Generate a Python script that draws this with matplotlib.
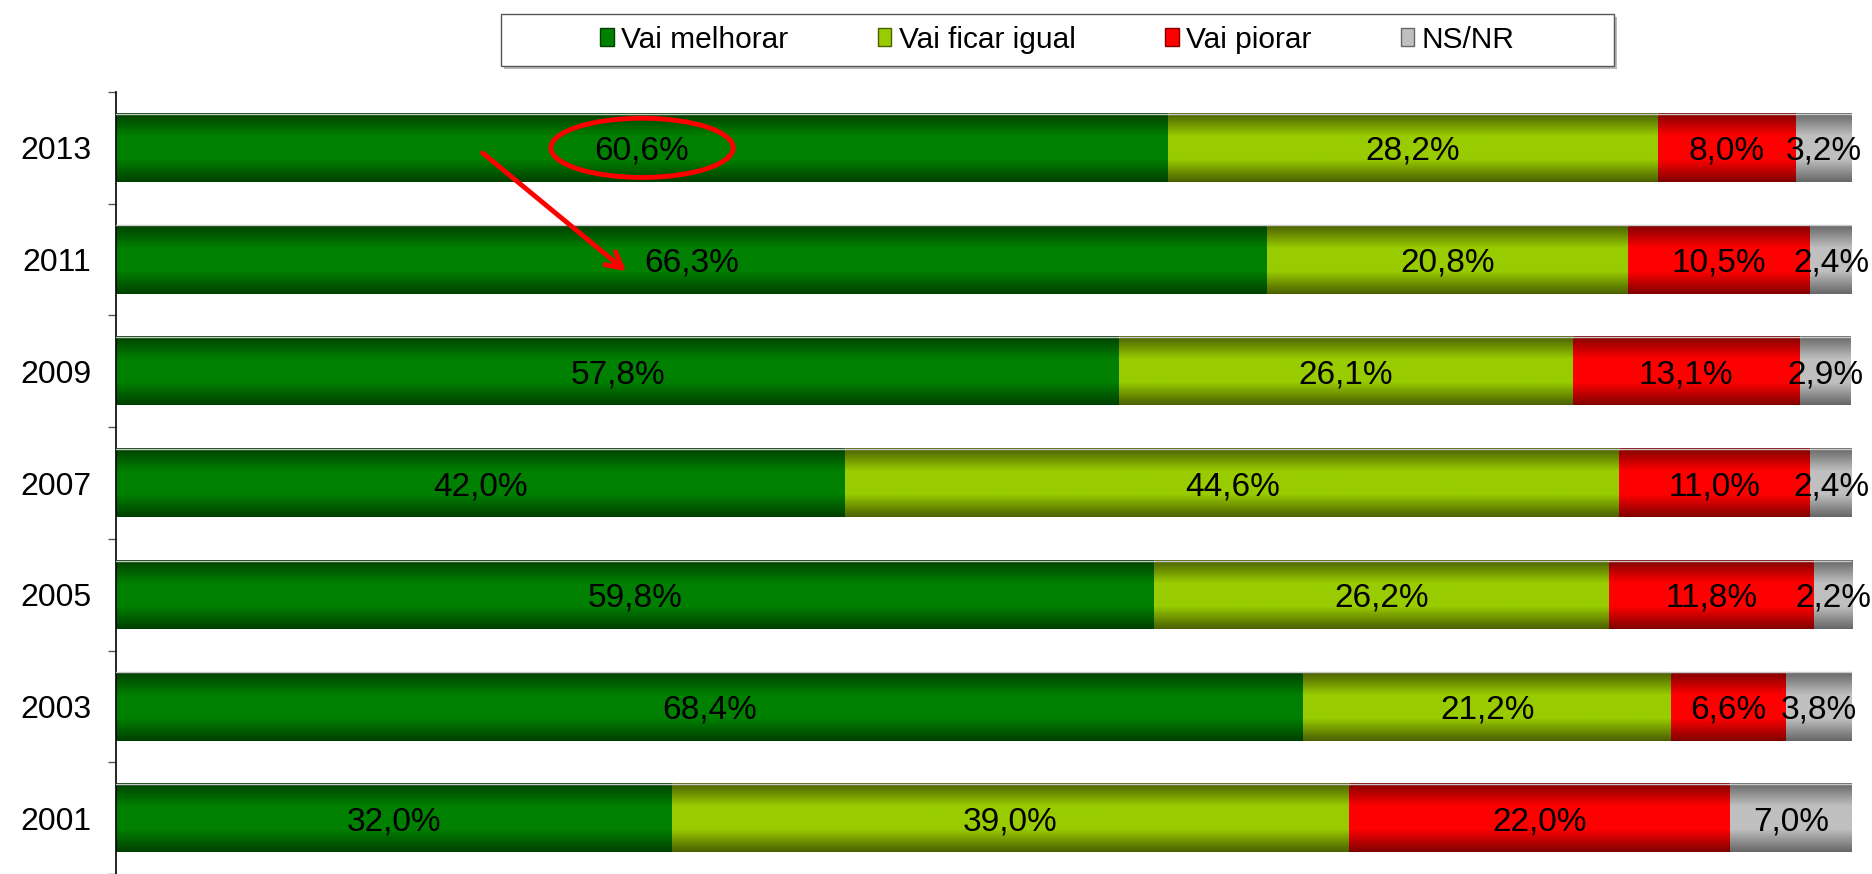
import numpy as np
import matplotlib
matplotlib.use("Agg")
import matplotlib.pyplot as plt
from matplotlib.colors import LinearSegmentedColormap
from matplotlib.patches import Patch, Ellipse, Rectangle

plt.rcParams['font.family'] = ['Liberation Sans', 'DejaVu Sans']

years = ['2001', '2003', '2005', '2007', '2009', '2011', '2013']
series_names = ['Vai melhorar', 'Vai ficar igual', 'Vai piorar', 'NS/NR']
melhorar = [32.0, 68.4, 59.8, 42.0, 57.8, 66.3, 60.6]
igual = [39.0, 21.2, 26.2, 44.6, 26.1, 20.8, 28.2]
piorar = [22.0, 6.6, 11.8, 11.0, 13.1, 10.5, 8.0]
nsnr = [7.0, 3.8, 2.2, 2.4, 2.9, 2.4, 3.2]

center_colors = ['#008000', '#99cc00', '#ff0000', '#c0c0c0']
edge_colors = ['#003f00', '#4a5f00', '#800000', '#666666']

fig = plt.figure(figsize=(18.72, 8.74), dpi=100)
ax = fig.add_axes([116/1872, 0.0, (1852-116)/1872, 1 - 92/874])

y = np.arange(len(years))
data = [melhorar, igual, piorar, nsnr]
left = np.zeros(len(years))
bar_h = 0.61
for vals, cc, ec in zip(data, center_colors, edge_colors):
    bars = ax.barh(y, vals, left=left, height=bar_h, color=cc, edgecolor='none', zorder=1)
    cmap = LinearSegmentedColormap.from_list('g', [ec, cc, cc, ec], N=256)
    grad = np.linspace(0, 1, 256).reshape(-1, 1)
    for b, v in zip(bars, vals):
        x0, y0, w, h = b.get_x(), b.get_y(), b.get_width(), b.get_height()
        ax.imshow(grad, cmap=cmap, aspect='auto', extent=(x0, x0 + w, y0, y0 + h),
                  zorder=2, interpolation='bicubic')
        ax.plot([x0, x0 + w], [y0 + h, y0 + h], color='#c8c8c8', lw=1, zorder=3)
        ax.text(x0 + w / 2, y0 + h / 2, f"{v:.1f}%".replace('.', ','),
                ha='center', va='center_baseline', fontsize=24, color='black', zorder=4)
    left = left + np.array(vals)

ax.set_xlim(0, 100)
ax.set_ylim(-0.482, 6.5)
ax.set_yticks(y)
ax.set_yticklabels(years, fontsize=23)
ax.set_yticks(np.arange(-0.5, 7.0, 1.0), minor=True)
ax.tick_params(axis='y', which='major', length=0, pad=18)
ax.tick_params(axis='y', which='minor', length=6, width=1, color='#555555')
ax.set_xticks([])
for s in ['top', 'right', 'bottom']:
    ax.spines[s].set_visible(False)
ax.spines['left'].set_linewidth(1.2)

# highlight ellipse on 2013 "Vai melhorar"
ax.add_patch(Ellipse((melhorar[6] / 2, 6.0), 10.5, 0.53, fill=False,
                     edgecolor='#ff0000', lw=3.5, zorder=5))
ax.annotate('', xy=(29.5, 4.88), xytext=(21.0, 5.97),
            arrowprops=dict(arrowstyle='->,head_length=1.1,head_width=0.6',
                            color='#ff0000', lw=3.5), zorder=6)

# legend frame (drawn separately) + legend entries
fx0, fx1 = 501 / 1872, 1614 / 1872
fy0, fy1 = 1 - 66 / 874, 1 - 14 / 874
fig.add_artist(Rectangle((fx0 + 0.0015, fy0 - 0.003), fx1 - fx0, fy1 - fy0,
                         transform=fig.transFigure, facecolor='#bbbbbb',
                         edgecolor='none', zorder=0))
fig.add_artist(Rectangle((fx0, fy0), fx1 - fx0, fy1 - fy0, transform=fig.transFigure,
                         facecolor='white', edgecolor='#555555', lw=1.0, zorder=1))
handles = [Patch(facecolor=c, edgecolor=e) for c, e in zip(center_colors, edge_colors)]
leg = fig.legend(handles, series_names, loc='center',
                 bbox_to_anchor=((fx0 + fx1) / 2, (fy0 + fy1) / 2),
                 ncol=4, fontsize=21.5, frameon=False,
                 handlelength=0.45, handleheight=0.55,
                 handletextpad=0.25, columnspacing=3.0, borderpad=0.2)
leg.set_zorder(2)

fig.savefig('out.png', dpi=100)
